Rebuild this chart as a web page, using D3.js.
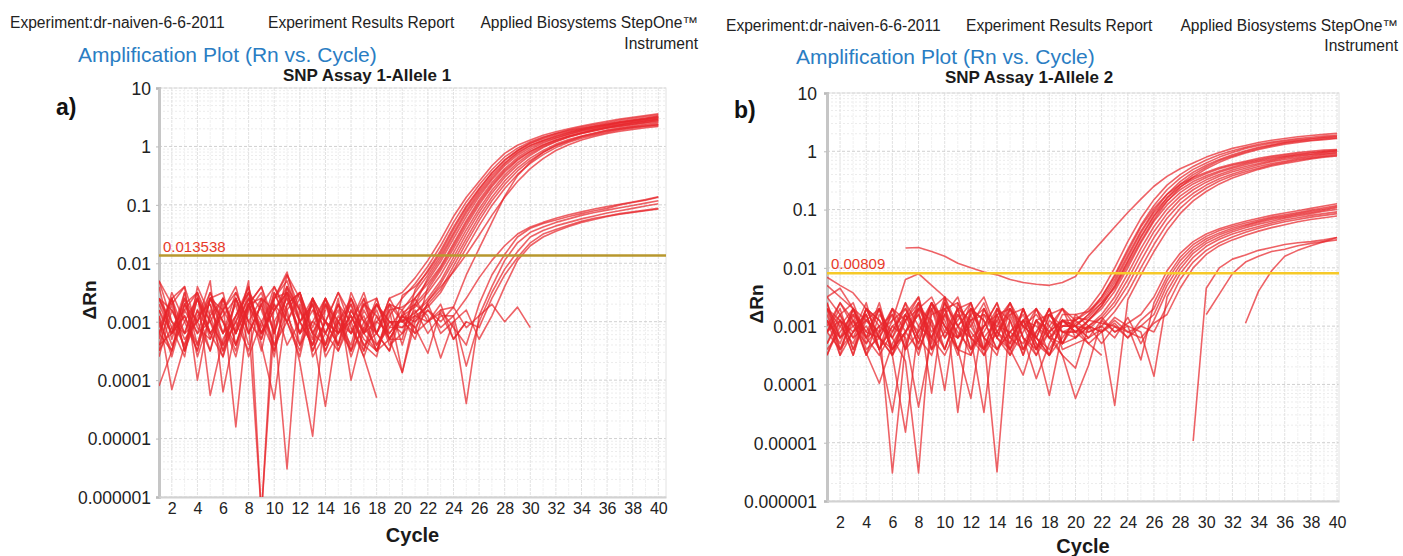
<!DOCTYPE html>
<html>
<head>
<meta charset="utf-8">
<script src="https://cdn.jsdelivr.net/npm/d3@7"></script>
<style>
body { margin: 0; background: #fff; }
svg { display: block; }
text { font-family: "Liberation Sans", Arial, sans-serif; }
</style>
</head>
<body>
<svg width="1403" height="556"></svg>
<script>
const cycles = [1,2,3,4,5,6,7,8,9,10,11,12,13,14,15,16,17,18,19,20,21,22,23,24,25,26,27,28,29,30,31,32,33,34,35,36,37,38,39,40];
const xTicks = [2,4,6,8,10,12,14,16,18,20,22,24,26,28,30,32,34,36,38,40];
const yTicks = [10,1,0.1,0.01,0.001,0.0001,0.00001,0.000001];
const yTickLabels = ["10","1","0.1","0.01","0.001","0.0001","0.00001","0.000001"];

// values are log10(ΔRn); null = no point (negative ΔRn)
// Allele 1, cycles 1-19
const allele1Base = [
  [-2.3,-2.7,-2.4,-3.1,-3.3,-2.6,-3.4,-2.7,-2.4,-3.2,-2.4,-3.0,-3.4,-2.6,-3.1,-3.5,-2.7,-3.2,-2.6],
  [-2.6,-3.1,-3.6,-2.4,-2.9,-3.5,-3.0,-2.4,-3.3,-2.6,-2.2,-2.8,-3.5,-3.0,-2.5,-2.9,-3.3,-3.5,-2.9],
  [-4.1,-3.5,-2.7,-3.2,-2.5,-3.0,-3.5,-2.6,-3.1,-2.4,-2.9,-3.4,-2.6,-3.6,-3.2,-2.7,-3.5,-2.9,-3.3],
  [-2.9,-4.16,-3.4,-2.6,-3.3,-2.8,-2.4,-3.2,-2.7,-3.4,-3.0,-2.5,-3.1,-2.6,-3.5,-3.0,-2.5,-3.2,-3.5],
  [-3.1,-2.6,-2.4,-4.0,-2.8,-3.2,-2.5,-3.0,-6.3,-2.6,-2.15,-3.0,-2.6,-3.2,-2.8,-3.6,-3.0,-2.7,-3.1],
  [-3.5,-3.1,-2.8,-2.5,-4.26,-3.3,-2.9,-2.5,-3.2,-2.8,-2.4,-3.4,-3.0,-2.6,-3.2,-2.9,-3.4,-3.6,-2.7],
  [-2.6,-2.8,-3.3,-3.0,-2.3,-4.2,-3.1,-2.6,-3.0,-3.5,-2.5,-2.8,-3.2,-4.45,-3.0,-2.7,-3.2,-2.6,-3.3],
  [-2.4,-3.3,-2.6,-3.0,-3.5,-2.7,-4.8,-2.7,-3.2,-2.5,-3.0,-3.6,-2.6,-3.0,-3.4,-2.5,-3.0,-3.5,-2.8],
  [-3.6,-2.8,-3.2,-2.6,-3.0,-3.6,-2.9,-2.4,-3.4,-4.33,-2.7,-2.5,-3.2,-2.8,null,-3.1,-3.5,-2.7,-3.0],
  [-2.8,-3.2,-2.5,-3.4,-2.6,-3.0,-3.6,-2.7,-2.4,-3.0,-5.52,-2.7,-3.4,-3.0,-3.2,-2.6,-3.0,-3.2,-3.5],
  [-3.3,-2.5,-3.0,-3.5,-2.6,-2.8,-3.2,-2.3,-6.3,-3.0,-2.6,-3.2,-2.8,-3.4,-2.6,-4.0,-3.1,-2.7,-3.2],
  [-3.0,-3.5,-2.7,-2.5,-3.2,-3.6,-2.6,-3.2,-2.7,-2.4,-2.8,-3.7,-4.96,-2.7,-3.0,-3.4,-2.6,-3.2,-2.8],
  [null,-3.2,-2.7,-3.0,-2.6,-3.0,-3.4,-2.8,-2.5,-3.2,-2.2,-2.6,-3.5,-3.0,-2.5,-3.1,-3.6,-4.3,null],
  [-3.2,-2.6,-3.5,-2.8,-3.2,null,-3.0,-3.5,-2.6,-2.8,-2.5,-3.2,-2.6,-3.2,-3.5,-2.8,-3.2,-2.8,-3.4],
  [-2.6,-3.0,-3.2,-2.5,-3.0,-3.4,-2.6,-3.2,-2.7,-3.6,-2.4,-2.8,-3.3,-2.6,-3.0,-3.5,-2.8,-3.2,-2.6],
  [-3.4,-3.2,-2.6,-3.6,-2.9,-2.6,-3.2,-2.7,-3.5,-2.5,-3.0,-2.6,-3.2,-3.4,-2.7,-3.0,-3.6,-3.0,-2.7],
  [-2.8,-3.4,-3.0,-2.6,-3.2,-2.8,-2.5,-3.0,-3.3,-2.6,-2.3,-3.0,-3.4,-2.7,-3.2,-3.0,-2.6,-3.4,-3.0],
  [-3.5,-2.6,-3.2,-3.0,-2.5,-3.2,-2.7,-3.6,-3.0,-2.6,-2.5,null,-2.8,-3.0,-3.4,-2.6,-3.2,-3.0,-3.2],
  [-2.3,-3.0,-3.4,-2.8,-3.5,-2.6,-3.2,-2.5,-2.8,-3.4,-2.7,-2.5,-3.6,-3.2,-2.7,-3.2,-2.9,-3.5,-3.0],
  [-3.2,-3.5,-2.5,null,-2.7,-3.5,-2.6,-3.0,-2.6,-3.2,-2.55,-3.0,-2.7,-3.5,-3.0,-3.2,-2.7,-2.6,-3.3],
  [-2.6,-3.2,-2.9,-3.5,-2.6,-2.5,-3.4,-2.7,-3.2,-2.7,-3.0,-3.5,-2.6,-3.0,-3.2,-2.9,-3.4,-3.2,-2.7],
  [-3.4,-2.7,-3.5,-2.6,-3.2,-2.9,-2.6,-3.4,null,null,-2.6,-3.2,-3.0,-3.2,-2.7,-3.5,-3.1,-3.4,-3.1],
  [-2.9,-3.6,-2.8,-3.2,-3.0,-2.6,-3.2,-2.7,-2.6,-3.5,-2.8,-2.5,-3.2,-2.7,-3.4,-2.8,-3.2,-3.5,-3.3],
  [-2.7,-3.2,-2.9,-3.4,-2.6,-3.2,-2.9,-2.5,-3.2,-2.7,-3.4,-3.0,-2.7,-3.5,-2.9,-3.2,-2.7,-2.9,-3.3],
  [-3.2,-2.6,-3.5,-2.9,-2.7,-3.4,-3.0,-2.6,-3.2,-2.8,-2.5,-3.2,-2.7,-3.4,-3.0,-2.6,-3.2,-2.7,-3.0]
];
// Allele 1, cycles 20-40
const allele1Rise = [
  [-2.5,-2.25,-1.95,-1.6,-1.2,-0.87,-0.6,-0.33,-0.12,0.02,0.11,0.19,0.25,0.3,0.35,0.39,0.43,0.47,0.5,0.53,0.56],
  [-2.6,-2.35,-2.05,-1.7,-1.3,-0.95,-0.66,-0.4,-0.18,-0.03,0.08,0.16,0.22,0.27,0.31,0.35,0.39,0.42,0.45,0.48,0.52],
  [-3.3,-2.45,-2.12,-1.78,-1.38,-1.02,-0.72,-0.45,-0.23,-0.07,0.05,0.13,0.2,0.25,0.3,0.34,0.37,0.41,0.44,0.47,0.5],
  [-2.55,-2.4,-2.15,-1.82,-1.42,-1.05,-0.74,-0.46,-0.24,-0.07,0.06,0.15,0.22,0.28,0.33,0.37,0.41,0.45,0.48,0.51,0.54],
  [-2.8,-2.5,-2.2,-1.87,-1.48,-1.1,-0.78,-0.5,-0.28,-0.1,0.02,0.1,0.17,0.23,0.28,0.32,0.36,0.39,0.42,0.45,0.48],
  [-3.4,-2.7,-2.25,-1.92,-1.52,-1.14,-0.82,-0.54,-0.3,-0.12,0.01,0.1,0.18,0.24,0.29,0.34,0.38,0.42,0.45,0.48,0.51],
  [-2.9,-2.6,-2.3,-1.97,-1.58,-1.2,-0.86,-0.57,-0.33,-0.15,-0.02,0.08,0.15,0.21,0.26,0.3,0.34,0.37,0.4,0.43,0.46],
  [-2.75,-2.6,-2.35,-2.05,-1.66,-1.27,-0.92,-0.62,-0.38,-0.19,-0.05,0.06,0.14,0.21,0.27,0.32,0.36,0.4,0.43,0.46,0.49],
  [-3.0,-3.2,-2.4,-2.08,-1.7,-1.31,-0.96,-0.66,-0.41,-0.22,-0.08,0.03,0.11,0.18,0.23,0.28,0.32,0.35,0.38,0.41,0.44],
  [-2.85,-2.7,-2.45,-2.12,-1.75,-1.36,-1.0,-0.69,-0.44,-0.24,-0.09,0.02,0.11,0.18,0.24,0.29,0.33,0.37,0.41,0.44,0.47],
  [-2.9,-2.75,-2.5,-2.2,-1.82,-1.43,-1.07,-0.75,-0.49,-0.28,-0.12,0.0,0.09,0.16,0.22,0.27,0.31,0.34,0.37,0.4,0.42],
  [-3.87,-2.85,-2.6,-2.3,-1.9,-1.5,-1.13,-0.8,-0.53,-0.32,-0.15,-0.02,0.08,0.16,0.22,0.27,0.32,0.36,0.39,0.42,0.45],
  [-2.95,-3.3,-2.65,-2.35,-1.97,-1.58,-1.2,-0.87,-0.59,-0.37,-0.2,-0.07,0.04,0.12,0.18,0.23,0.28,0.32,0.35,0.38,0.4],
  [-3.2,-2.95,-2.7,-2.45,-2.05,-1.65,-1.27,-0.93,-0.65,-0.42,-0.24,-0.1,0.01,0.09,0.16,0.21,0.26,0.3,0.33,0.36,0.38],
  [-3.0,-2.9,-2.75,-2.5,-2.12,-1.74,-1.36,-1.01,-0.72,-0.48,-0.29,-0.14,-0.02,0.07,0.14,0.19,0.24,0.28,0.31,0.34,0.36],
  [-3.0,-2.85,-2.65,-2.4,-2.15,-1.85,-1.52,-1.18,-0.87,-0.6,-0.38,-0.21,-0.07,0.03,0.11,0.17,0.22,0.26,0.29,0.32,0.34],
  [-3.1,-2.9,-3.0,-2.8,-2.75,-2.2,-1.75,-1.3,-0.85,-0.5,-0.27,-0.1,0.02,0.1,0.17,0.22,0.27,0.3,0.33,0.35,0.37],
  [-2.9,-3.1,-3.54,-2.8,-3.1,-3.4,-2.7,-2.2,-1.85,-1.55,-1.4,-1.32,-1.26,-1.2,-1.15,-1.1,-1.06,-1.0,-0.96,-0.92,-0.87],
  [-3.0,-2.7,-2.9,-3.62,-3.0,-4.4,-2.9,-2.4,-1.95,-1.65,-1.47,-1.38,-1.3,-1.24,-1.18,-1.13,-1.09,-1.05,-1.01,-0.97,-0.93],
  [-3.87,-3.0,-2.8,-3.1,-2.9,-3.76,-3.0,-2.5,-2.1,-1.8,-1.55,-1.44,-1.36,-1.3,-1.24,-1.19,-1.14,-1.1,-1.06,-1.02,-0.98],
  [-2.8,-3.2,-3.0,-2.7,-3.3,-3.0,-3.1,-2.6,-2.2,-1.9,-1.65,-1.5,-1.42,-1.35,-1.28,-1.23,-1.19,-1.15,-1.12,-1.09,-1.06],
  [-3.1,-2.8,-3.2,-2.9,-2.9,-2.6,-2.25,-1.95,-1.7,-1.5,-1.38,-1.3,-1.23,-1.17,-1.12,-1.07,-1.03,-0.99,-0.95,-0.91,-0.86],
  [-2.9,-3.0,-2.7,-3.2,-3.0,-2.8,-3.3,-2.9,-2.4,-1.95,-1.7,-1.55,-1.45,-1.37,-1.3,-1.25,-1.2,-1.16,-1.13,-1.1,-1.07],
  [-2.9,-3.1,-2.8,-3.0,-2.75,-3.1,-2.9,-2.7,-3.0,-2.75,-3.1,null,null,null,null,null,null,null,null,null,null],
  [-3.2,-2.6,-3.0,-2.85,-3.3,-3.0,null,null,null,null,null,null,null,null,null,null,null,null,null,null,null]
];
const allele1Threshold = 0.013538;

// Allele 2, cycles 1-19
const allele2Base = [
  [null,null,null,null,null,null,-1.66,-1.65,-1.72,-1.8,-1.92,-2.0,-2.07,-2.12,-2.2,-2.25,-2.28,-2.3,-2.25],
  [-2.16,-2.3,-2.43,-2.7,-2.9,-3.2,-2.8,-3.3,-2.6,-3.0,-3.4,-2.8,-2.5,-3.1,-3.3,-2.7,-3.4,-3.0,-2.7],
  [-2.5,-2.35,-2.7,-3.1,-3.2,-3.5,-2.8,-2.5,-3.3,-2.6,-3.0,-3.5,-2.7,-3.2,-2.6,-3.0,-3.2,-3.5,-2.9],
  [-3.0,-2.6,-2.9,-3.46,-3.98,-3.3,-2.9,-2.5,-3.4,-2.8,-2.5,-3.2,-3.0,-2.6,-3.4,-2.9,-2.7,-3.2,-3.3],
  [-2.6,-3.2,-3.0,-2.8,-3.4,-4.48,-3.1,-2.6,-3.0,-3.4,-2.7,-2.6,-3.4,-3.0,-2.6,-3.2,-3.5,-2.9,-3.1],
  [-3.3,-2.8,-2.6,-3.2,-3.0,-5.52,-3.3,-2.7,-2.5,-3.0,-3.2,-2.6,-3.2,-3.5,-2.7,-3.0,-3.2,-2.7,-3.3],
  [-2.7,-3.0,-3.3,-2.7,-3.2,-3.5,-4.82,-3.0,-2.6,-3.2,-2.7,-3.4,-3.0,-2.6,-3.2,-3.4,-2.9,-3.5,-2.9],
  [-3.1,-2.6,-3.0,-3.3,-2.7,-3.2,-3.6,-5.52,-2.7,-2.5,-3.0,-3.2,-3.5,-2.9,-2.6,-3.2,-3.4,-2.8,-3.1],
  [-2.5,-2.8,-3.2,-3.0,-3.4,-3.0,-3.2,-4.39,-3.2,-2.6,-3.0,-2.7,-3.2,-3.4,-2.9,-3.5,-2.7,-3.2,-2.9],
  [-2.9,-3.3,-2.7,-3.2,-2.6,-3.4,-2.9,-2.7,-4.15,-2.5,-3.2,-3.0,-2.6,-3.2,-3.5,-2.9,-3.2,-2.7,-3.3],
  [-3.1,-2.9,-3.5,-2.7,-3.0,-3.2,-2.6,-3.4,-2.9,-4.1,-2.6,-3.0,-3.4,-2.7,-3.2,-2.9,-3.4,-3.1,-2.7],
  [-2.7,-3.2,-2.9,-3.5,-3.1,-2.7,-3.4,-2.6,-3.2,-2.5,-4.48,-2.7,-3.2,-2.9,-3.4,-2.7,-3.2,-3.5,-2.9],
  [-3.3,-2.9,-3.1,-2.6,-3.4,-2.9,-2.7,-3.2,-2.6,-3.0,-3.4,-4.24,-2.8,-3.2,-2.7,-3.4,-2.9,-3.2,-3.5],
  [-2.9,-3.5,-2.7,-3.2,-2.7,-3.4,-3.1,-2.8,-3.4,-2.7,-2.6,-3.2,-4.48,-2.7,-3.2,-2.9,-3.4,-2.8,-3.1],
  [-3.1,-2.7,-3.4,-2.9,-3.2,-2.7,-2.9,-3.5,-2.7,-3.2,-2.9,-2.6,-3.2,-5.5,-2.8,-3.4,-3.1,-2.7,-3.4],
  [-2.6,-3.4,-2.9,-3.2,-3.5,-3.1,-2.6,-3.0,-3.2,-2.7,-3.4,-2.9,-2.7,-3.2,-3.4,-3.84,-3.1,-2.8,-2.7],
  [-3.5,-2.9,-3.2,-2.7,-2.9,-3.4,-3.1,-2.7,-2.9,-3.4,-2.8,-3.2,-3.4,-2.8,-2.7,-3.2,-3.9,-3.3,-2.8],
  [-2.9,-3.2,-2.7,-3.4,-3.2,-2.8,-3.4,-3.1,-2.6,-2.9,-3.5,-2.7,-2.9,-3.4,-3.1,-2.8,-3.3,-4.19,-3.1],
  [-3.1,-3.4,-2.8,-3.1,-2.7,-3.5,-2.9,-2.6,-3.4,-3.1,-2.7,-3.4,-3.1,-2.7,-2.9,-3.5,-2.9,-3.1,-3.5],
  [-2.7,-2.9,-3.5,-2.8,-3.4,-2.7,-3.1,-3.4,-2.8,-2.7,-3.2,-2.9,-3.5,-3.1,-2.8,-2.7,-3.2,-3.4,-3.0],
  [-3.4,-3.1,-2.8,-3.5,-2.8,-3.1,-2.7,-3.2,-3.5,-2.8,-3.1,-3.4,-2.7,-3.1,-3.4,-3.0,-2.8,-3.1,-2.9],
  [-2.3,-2.5,-2.7,-2.9,-3.1,-2.9,-2.2,-2.1,-2.3,-2.5,-2.7,-2.9,-2.8,-3.0,-3.1,-2.9,-3.0,-3.2,-3.0],
  [-3.1,-2.8,-3.4,-2.7,-3.2,-3.4,-2.8,-3.1,-2.7,-3.4,-2.8,-3.1,-3.4,-2.8,-3.5,-3.1,-2.7,-3.0,-3.3],
  [-2.8,-3.4,-3.1,-2.9,-2.7,-3.5,-3.1,-2.8,-3.2,-3.5,-3.0,-2.7,-2.9,-3.4,-3.1,-3.3,-2.9,-2.8,-3.0],
  [-3.5,-3.0,-2.7,-3.3,-3.0,-2.8,-3.4,-2.7,-3.1,-2.8,-3.4,-3.5,-3.0,-2.8,-3.3,-2.7,-3.3,-3.5,-3.2],
  [-2.7,-3.5,-3.1,-2.8,-3.4,-3.0,-2.8,-3.3,-2.6,-3.1,-3.2,-2.8,-3.4,-3.1,-2.7,-3.0,-3.5,-3.1,-2.9]
];
// Allele 2, cycles 20-40
const allele2Rise = [
  [-2.15,-1.8,-1.55,-1.3,-1.05,-0.82,-0.6,-0.43,-0.3,-0.2,-0.1,-0.02,0.05,0.1,0.15,0.19,0.22,0.25,0.27,0.29,0.31],
  [-2.9,-2.7,-2.4,-2.0,-1.55,-1.15,-0.83,-0.58,-0.4,-0.26,-0.15,-0.06,0.01,0.07,0.12,0.16,0.19,0.22,0.24,0.26,0.28],
  [-3.0,-2.8,-2.5,-2.12,-1.68,-1.27,-0.93,-0.66,-0.46,-0.31,-0.2,-0.1,-0.02,0.05,0.1,0.14,0.17,0.2,0.22,0.24,0.26],
  [-2.8,-2.75,-2.55,-2.2,-1.78,-1.37,-1.02,-0.74,-0.52,-0.36,-0.24,-0.14,-0.06,0.01,0.07,0.11,0.15,0.18,0.21,0.23,0.25],
  [-3.1,-2.9,-2.65,-2.3,-1.88,-1.46,-1.1,-0.8,-0.57,-0.4,-0.27,-0.16,-0.08,-0.01,0.05,0.1,0.14,0.17,0.19,0.21,0.23],
  [-2.95,-2.85,-2.6,-2.35,-1.95,-1.54,-1.17,-0.86,-0.62,-0.44,-0.3,-0.19,-0.1,-0.03,0.03,0.08,0.12,0.15,0.18,0.2,0.22],
  [-2.9,-2.75,-2.5,-2.15,-1.72,-1.3,-0.98,-0.74,-0.57,-0.45,-0.36,-0.28,-0.22,-0.17,-0.12,-0.08,-0.05,-0.02,0.0,0.02,0.03],
  [-3.0,-2.8,-2.6,-2.25,-1.82,-1.4,-1.05,-0.8,-0.61,-0.48,-0.38,-0.3,-0.24,-0.19,-0.14,-0.1,-0.07,-0.04,-0.02,0.0,0.02],
  [-3.1,-2.9,-2.65,-2.32,-1.9,-1.48,-1.12,-0.85,-0.66,-0.52,-0.42,-0.34,-0.27,-0.21,-0.16,-0.12,-0.09,-0.06,-0.03,-0.01,0.01],
  [-2.85,-2.9,-2.7,-2.4,-2.0,-1.57,-1.2,-0.92,-0.71,-0.56,-0.45,-0.36,-0.29,-0.23,-0.18,-0.14,-0.1,-0.07,-0.05,-0.02,0.0],
  [-3.2,-3.0,-2.8,-2.5,-2.1,-1.67,-1.29,-0.99,-0.77,-0.61,-0.49,-0.4,-0.32,-0.26,-0.21,-0.16,-0.12,-0.09,-0.06,-0.04,-0.02],
  [-3.0,-3.05,-2.85,-2.58,-2.2,-1.77,-1.38,-1.07,-0.83,-0.66,-0.53,-0.43,-0.35,-0.29,-0.23,-0.18,-0.14,-0.11,-0.08,-0.05,-0.03],
  [-4.24,-3.67,-2.9,-2.65,-2.3,-1.88,-1.48,-1.15,-0.9,-0.72,-0.58,-0.47,-0.39,-0.32,-0.26,-0.21,-0.17,-0.13,-0.1,-0.07,-0.05],
  [-3.1,-3.1,-3.0,-2.75,-2.42,-2.0,-1.6,-1.25,-0.98,-0.78,-0.63,-0.51,-0.42,-0.35,-0.29,-0.23,-0.19,-0.15,-0.12,-0.09,-0.07],
  [-3.3,-3.2,-3.05,-4.36,-2.55,-2.12,-1.72,-1.36,-1.07,-0.85,-0.69,-0.56,-0.46,-0.38,-0.31,-0.25,-0.21,-0.17,-0.13,-0.1,-0.08],
  [-3.0,-3.2,-2.9,-3.1,-2.95,-2.8,-2.5,-2.05,-1.75,-1.55,-1.42,-1.33,-1.26,-1.2,-1.15,-1.1,-1.06,-1.02,-0.98,-0.94,-0.9],
  [-2.8,-3.0,-3.1,-2.85,-3.0,-3.58,-2.6,-2.15,-1.82,-1.6,-1.46,-1.36,-1.29,-1.23,-1.18,-1.13,-1.09,-1.05,-1.01,-0.97,-0.93],
  [-3.2,-2.9,-2.95,-3.0,-3.2,-2.9,-2.7,-2.22,-1.88,-1.65,-1.5,-1.4,-1.32,-1.26,-1.2,-1.15,-1.11,-1.07,-1.03,-0.99,-0.95],
  [-3.72,-3.0,-3.1,-2.9,-3.1,-3.0,-2.8,-2.3,-1.95,-1.7,-1.54,-1.43,-1.35,-1.28,-1.22,-1.17,-1.13,-1.09,-1.05,-1.01,-0.97],
  [-2.9,-3.1,-3.0,-3.2,-2.85,-3.3,-2.9,-2.4,-2.02,-1.75,-1.58,-1.47,-1.38,-1.31,-1.25,-1.2,-1.15,-1.11,-1.07,-1.03,-1.0],
  [-3.1,-3.0,-2.85,-3.1,-3.0,-3.1,-3.86,-2.5,-2.1,-1.82,-1.63,-1.51,-1.42,-1.35,-1.29,-1.23,-1.18,-1.14,-1.1,-1.07,-1.04],
  [-3.0,-3.3,-3.1,-2.95,-3.2,-3.0,-3.1,-2.65,-2.2,-1.9,-1.7,-1.57,-1.47,-1.39,-1.32,-1.26,-1.21,-1.17,-1.13,-1.1,-1.07],
  [-3.2,-3.0,-3.3,-3.0,-3.1,-3.2,-2.95,-2.8,-2.35,-2.0,-1.77,-1.62,-1.52,-1.44,-1.37,-1.31,-1.26,-1.21,-1.17,-1.14,-1.11],
  [-3.0,-3.2,null,null,null,null,null,null,null,-4.97,-2.35,-2.0,-1.85,-1.78,-1.7,-1.65,-1.6,-1.57,-1.55,-1.52,-1.48],
  [-2.9,null,null,null,null,null,null,null,null,null,null,null,null,-2.95,-2.4,-2.05,-1.8,-1.7,-1.62,-1.55,-1.48],
  [-3.1,-3.3,-3.5,null,null,null,null,null,null,null,-2.8,-2.45,-2.1,-1.9,-1.8,-1.72,-1.68,-1.62,-1.58,-1.55,-1.52]
];
const allele2Threshold = 0.00809;

const svg = d3.select("svg");

const panels = [
  {
    id: "a", left: 159, right: 666, top: 88, bottom: 497, xMax: 40.6,
    base: allele1Base, rise: allele1Rise, threshold: allele1Threshold,
    thresholdLabel: "0.013538", thresholdColor: "#b8982e",
    head: [10, 268, 698], headY: 28, instY: 49,
    title: "SNP Assay 1-Allele 1", titleX: 367, titleY: 81,
    ampX: 78, ampY: 62, tag: "a)", tagX: 56, tagY: 115,
    yLabelX: 96, yLabelY: 300, tickX: 151, xLabY: 514, cycleY: 542
  },
  {
    id: "b", left: 827, right: 1339, top: 93, bottom: 501, xMax: 40.15,
    base: allele2Base, rise: allele2Rise, threshold: allele2Threshold,
    thresholdLabel: "0.00809", thresholdColor: "#f6c928",
    head: [726, 966, 1398], headY: 31, instY: 51,
    title: "SNP Assay 1-Allele 2", titleX: 1029, titleY: 83,
    ampX: 796, ampY: 64, tag: "b)", tagX: 734, tagY: 118,
    yLabelX: 763, yLabelY: 304, tickX: 817, xLabY: 528, cycleY: 553
  }
];

panels.forEach(drawPanel);

function drawPanel(p) {
  let g = svg.append("g");

  let x = d3.scaleLinear().domain([1, p.xMax]).range([p.left, p.right]);
  let y = d3.scaleLog().domain([0.000001, 10]).range([p.bottom, p.top]);

  // header text
  g.append("text").attr("x", p.head[0]).attr("y", p.headY)
    .style("font-size", "15.6px").attr("fill", "#222").text("Experiment:dr-naiven-6-6-2011");
  g.append("text").attr("x", p.head[1]).attr("y", p.headY)
    .style("font-size", "15.6px").attr("fill", "#222").text("Experiment Results Report");
  g.append("text").attr("x", p.head[2]).attr("y", p.headY).attr("text-anchor", "end")
    .style("font-size", "15.6px").attr("fill", "#222").text("Applied Biosystems StepOne™");
  g.append("text").attr("x", p.head[2]).attr("y", p.instY).attr("text-anchor", "end")
    .style("font-size", "15.6px").attr("fill", "#222").text("Instrument");
  g.append("text").attr("x", p.ampX).attr("y", p.ampY)
    .style("font-size", "21px").attr("fill", "#2a7dc3").text("Amplification Plot (Rn vs. Cycle)");
  g.append("text").attr("x", p.titleX).attr("y", p.titleY).attr("text-anchor", "middle")
    .style("font-size", "17px").style("font-weight", "bold").attr("fill", "#1a1a1a").text(p.title);
  g.append("text").attr("x", p.tagX).attr("y", p.tagY)
    .style("font-size", "23px").style("font-weight", "bold").attr("fill", "#111").text(p.tag);

  // grid
  let minors = [];
  yTicks.slice(1).forEach(t => {
    [2,3,4,5,6,7,8,9].forEach(k => { if (t * k < 10) minors.push(t * k); });
  });
  g.append("g").selectAll("line").data(minors).enter().append("line")
    .attr("x1", p.left).attr("x2", p.right)
    .attr("y1", d => y(d)).attr("y2", d => y(d))
    .attr("stroke", "#ececec").attr("stroke-dasharray", "2,2");
  g.append("g").selectAll("line").data(cycles).enter().append("line")
    .attr("x1", d => x(d)).attr("x2", d => x(d))
    .attr("y1", p.top).attr("y2", p.bottom)
    .attr("stroke", d => d % 2 === 0 ? "#e2e2e2" : "#f1f1f1")
    .attr("stroke-dasharray", "3,1");
  g.append("g").selectAll("line").data(yTicks).enter().append("line")
    .attr("x1", p.left).attr("x2", p.right)
    .attr("y1", d => y(d)).attr("y2", d => y(d))
    .attr("stroke", "#d0d0d0").attr("stroke-dasharray", "3,2");

  g.append("rect").attr("x", p.left).attr("y", p.top)
    .attr("width", p.right - p.left).attr("height", p.bottom - p.top)
    .attr("fill", "none").attr("stroke", "#e2e2e2");

  // axes
  let yAxis = d3.axisLeft(y).tickValues(yTicks).tickSize(3).tickFormat((d, i) => yTickLabels[i]);
  let ya = g.append("g").attr("transform", `translate(${p.left},0)`).call(yAxis);
  ya.select(".domain").attr("stroke", "#c6c6c6").attr("stroke-width", 3);
  ya.selectAll(".tick line").attr("stroke", "#bbb");
  ya.selectAll(".tick text").attr("x", p.tickX - p.left).attr("dy", "0.36em")
    .style("font-size", "17.5px").attr("fill", "#222").style("font-family", '"Liberation Sans", Arial, sans-serif');

  let xAxis = d3.axisBottom(x).tickValues(xTicks).tickSize(0).tickFormat(d3.format("d"));
  let xa = g.append("g").attr("transform", `translate(0,${p.bottom})`).call(xAxis);
  xa.select(".domain").attr("stroke", "#d2d2d2").attr("stroke-width", 2);
  xa.selectAll(".tick text").attr("y", p.xLabY - p.bottom).attr("dy", 0)
    .style("font-size", "16px").attr("fill", "#222").style("font-family", '"Liberation Sans", Arial, sans-serif');

  g.append("text").attr("x", (p.left + p.right) / 2).attr("y", p.cycleY).attr("text-anchor", "middle")
    .style("font-size", "20px").style("font-weight", "bold").attr("fill", "#1a1a1a").text("Cycle");
  g.append("text").attr("transform", `translate(${p.yLabelX},${p.yLabelY}) rotate(-90)`)
    .attr("text-anchor", "middle")
    .style("font-size", "19px").style("font-weight", "bold").attr("fill", "#1a1a1a").text("ΔRn");

  // curves
  g.append("clipPath").attr("id", "clip-" + p.id).append("rect")
    .attr("x", p.left).attr("y", p.top)
    .attr("width", p.right - p.left).attr("height", p.bottom - p.top);

  let curves = p.base.map((row, i) => row.concat(p.rise[i]).map((v, j) => ({ c: cycles[j], v: v })));
  let line = d3.line()
    .defined(d => d.v !== null)
    .x(d => x(d.c))
    .y(d => y(Math.pow(10, d.v)));

  g.append("g").attr("clip-path", `url(#clip-${p.id})`)
    .selectAll("path").data(curves).enter().append("path")
    .attr("d", line)
    .attr("fill", "none")
    .attr("stroke", "#e8262b")
    .attr("stroke-opacity", 0.72)
    .attr("stroke-width", 1.6)
    .attr("stroke-linejoin", "round");

  // threshold
  g.append("line").attr("x1", p.left).attr("x2", p.right)
    .attr("y1", y(p.threshold)).attr("y2", y(p.threshold))
    .attr("stroke", p.thresholdColor).attr("stroke-width", 2.5);
  g.append("text").attr("x", p.left + 4).attr("y", y(p.threshold) - 4)
    .style("font-size", "15px").attr("fill", "#e83a2a").text(p.thresholdLabel);
}
</script>
</body>
</html>
